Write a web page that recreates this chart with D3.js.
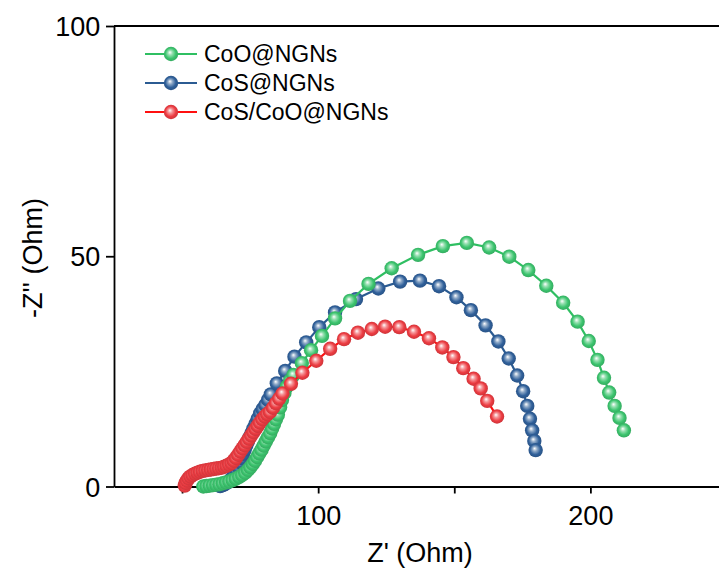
<!DOCTYPE html>
<html><head><meta charset="utf-8">
<script src="https://cdn.jsdelivr.net/npm/d3@7"></script>
<style>body{margin:0;background:#fff}svg{display:block}text{font-family:"Liberation Sans",Arial,sans-serif}</style>
</head><body><svg id="c" width="719" height="572"></svg>
<script>
const seriesNames = ["CoO@NGNs", "CoS@NGNs", "CoS/CoO@NGNs"];
const xTicks = [50, 100, 150, 200];
const xTickLabels = ["", "100", "", "200"];
const yTicks = [0, 50, 100];
const yTickLabels = ["0", "50", "100"];

const cooX = [57.8,59.0,60.2,61.4,62.6,63.8,65.0,66.2,67.4,68.6,69.8,71.0,72.1,73.2,74.2,75.1,76.0,76.8,77.6,78.4,79.2,80.0,80.8,81.6,82.4,83.1,83.8,84.5,85.2,86.0,86.7,87.6,88.5,89.7,90.9,94.0,97.4,101.4,106.2,111.7,118.5,127.0,136.7,145.8,154.6,162.8,170.2,177.2,183.8,190.0,195.3,199.4,202.6,205.0,206.9,208.9,210.7,212.3];
const cooY = [0.0,0.1,0.2,0.3,0.4,0.5,0.7,0.9,1.1,1.4,1.7,2.1,2.5,3.0,3.6,4.2,4.9,5.6,6.4,7.2,8.0,8.9,9.8,10.7,11.6,12.6,13.6,14.6,15.6,17.2,18.8,20.3,21.7,23.0,24.2,26.8,29.6,32.7,36.5,40.3,44.0,47.4,50.3,52.2,52.9,51.9,49.9,47.0,43.6,39.9,35.8,31.6,27.5,23.6,20.4,17.5,14.9,12.2];

const cosX = [64.0,65.0,66.0,67.0,67.9,68.7,69.4,70.0,70.6,71.2,71.8,72.4,73.0,73.6,74.2,74.8,75.5,76.2,77.0,77.8,78.7,79.6,80.6,81.6,82.6,84.8,87.9,91.3,95.6,100.4,106.2,113.9,122.1,130.1,137.4,144.4,150.8,156.1,161.5,166.2,170.0,173.1,175.3,176.8,177.8,178.6,179.4,179.9];
const cosY = [0.1,0.3,0.6,1.0,1.5,2.1,2.8,3.6,4.4,5.3,6.2,7.1,8.0,8.9,9.8,10.7,11.6,12.6,13.6,14.7,15.9,16.8,17.7,18.8,20.0,22.4,25.1,28.2,31.3,34.6,37.8,40.7,43.0,44.5,44.7,43.5,41.1,38.3,35.0,31.5,27.8,24.1,20.7,17.5,14.7,12.2,9.9,7.9];

const mixX = [51.0,51.3,51.8,52.4,53.1,53.9,54.8,55.7,56.6,57.6,58.6,59.6,60.6,61.6,62.6,63.6,64.6,65.5,66.4,67.3,68.2,69.0,69.8,70.6,71.4,72.2,73.0,73.8,74.6,75.4,76.2,77.0,77.8,78.6,79.5,80.4,81.3,82.3,83.4,84.5,85.7,86.9,90.0,94.2,99.3,104.4,109.5,114.6,119.7,124.6,129.8,135.2,140.7,145.6,149.7,153.3,157.1,159.7,162.1,165.7];
const mixY = [0.2,0.8,1.3,1.8,2.2,2.5,2.8,3.0,3.2,3.4,3.5,3.6,3.7,3.8,3.9,4.0,4.1,4.3,4.5,4.8,5.1,5.6,6.2,6.9,7.6,8.3,9.0,9.7,10.4,11.1,11.8,12.5,13.2,13.9,14.6,15.2,15.7,16.2,17.1,18.1,19.1,20.2,22.3,24.7,27.3,29.9,32.0,33.4,34.2,34.7,34.6,33.6,32.2,30.2,28.1,25.7,23.4,21.3,18.6,15.2];

const lineColors = ["#2fbf62", "#2b5b92", "#ff1010"];
const ballColors = ["#3cc46e", "#30609a", "#ec3c42"];

const svg = d3.select("#c");
const x = d3.scaleLinear().domain([25, 250]).range([114, 726.5]);
const y = d3.scaleLinear().domain([0, 100]).range([486.5, 26]);

const defs = svg.append("defs");
ballColors.forEach((c, i) => {
  const g = defs.append("radialGradient").attr("id", "ball" + i)
    .attr("cx", "50%").attr("cy", "50%").attr("r", "55%")
    .attr("fx", "42%").attr("fy", "38%");
  g.append("stop").attr("offset", "0%").attr("stop-color", "#ffffff");
  g.append("stop").attr("offset", "30%").attr("stop-color", d3.interpolateRgb("#ffffff", c)(0.55));
  g.append("stop").attr("offset", "65%").attr("stop-color", c);
  g.append("stop").attr("offset", "100%").attr("stop-color", d3.color(c).darker(0.5));
});

// axes
const xAxis = d3.axisBottom(x).tickValues(xTicks).tickFormat((d, i) => xTickLabels[i]).tickSize(7).tickSizeOuter(0);
const gx = svg.append("g").attr("transform", "translate(0,486.5)").call(xAxis);
const yAxis = d3.axisLeft(y).tickValues(yTicks).tickFormat((d, i) => yTickLabels[i]).tickSize(8).tickSizeOuter(0);
const gy = svg.append("g").attr("transform", "translate(114,0)").call(yAxis);
[gx, gy].forEach(g => {
  g.select(".domain").attr("stroke", "#000").attr("stroke-width", 1.8);
  g.selectAll(".tick line").attr("stroke", "#000").attr("stroke-width", 1.8);
  g.selectAll(".tick text").attr("fill", "#000").style("font-size", "27px");
});
gx.selectAll(".tick text").attr("dy", "1.05em");
gy.selectAll(".tick text").attr("dx", "-0.1em").attr("dy", "0.36em");
svg.append("line").attr("x1", 114).attr("x2", 719).attr("y1", y(100)).attr("y2", y(100)).attr("stroke", "#000").attr("stroke-width", 1.8);

svg.append("text").attr("x", 420).attr("y", 562).attr("text-anchor", "middle").style("font-size", "27px").text("Z' (Ohm)");
svg.append("text").attr("transform", "translate(42,258) rotate(-90)").attr("text-anchor", "middle").style("font-size", "27px").text("-Z'' (Ohm)");

const data = [
  cooX.map((v, i) => [v, cooY[i]]),
  cosX.map((v, i) => [v, cosY[i]]),
  mixX.map((v, i) => [v, mixY[i]])
];
const line = d3.line().x(d => x(d[0])).y(d => y(d[1]));
const order = [1, 0, 2];
const R = 7.2;
order.forEach(i => {
  const g = svg.append("g");
  g.append("path").attr("d", line(data[i])).attr("fill", "none").attr("stroke", lineColors[i]).attr("stroke-width", 2.2);
  g.selectAll("circle").data(data[i]).join("circle")
    .attr("cx", d => x(d[0])).attr("cy", d => y(d[1])).attr("r", R)
    .attr("fill", `url(#ball${i})`);
});

// legend
const leg = svg.append("g");
seriesNames.forEach((n, i) => {
  const yy = 54 + i * 29;
  leg.append("line").attr("x1", 145).attr("x2", 197).attr("y1", yy).attr("y2", yy).attr("stroke", lineColors[i]).attr("stroke-width", 2.2);
  leg.append("circle").attr("cx", 171).attr("cy", yy).attr("r", R).attr("fill", `url(#ball${i})`);
  leg.append("text").attr("x", 204).attr("y", yy).attr("dy", "0.36em").style("font-size", "23px").text(n);
});
</script></body></html>
